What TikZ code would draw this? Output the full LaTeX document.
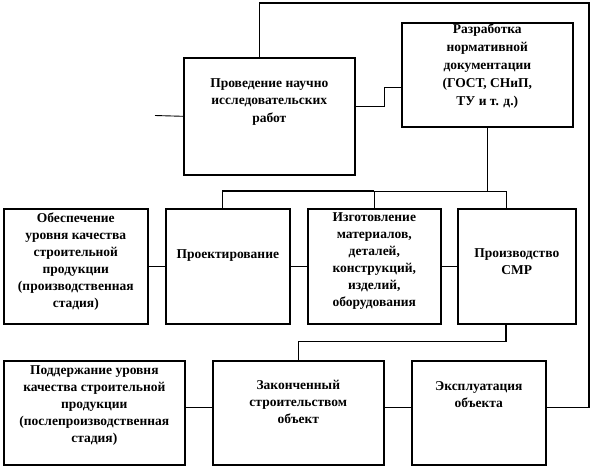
\documentclass[tikz,border=0pt]{standalone}
\usepackage{fontspec}
\setmainfont{Liberation Serif}
\usetikzlibrary{calc}
\tikzset{
  box/.style={draw=black, line width=1.6pt, fill=white, inner sep=0pt, anchor=north west},
  txt/.style={font=\fontsize{13.5}{17}\selectfont\bfseries, align=center, inner sep=0pt, anchor=north},
  widetxt/.style={txt, font=\fontsize{13.5}{17.8}\selectfont\bfseries},
  conn/.style={draw=black, line width=0.9pt},
  medconn/.style={draw=black, line width=1.2pt},
  thickconn/.style={draw=black, line width=1.6pt},
}
\begin{document}
\begin{tikzpicture}[x=1pt,y=-1pt]
\fill[white] (0,0) rectangle (593,468);
\useasboundingbox (0,0) rectangle (593,468);

% boxes
\node[box, minimum width=171pt, minimum height=117pt] (nir) at (183,57) {};
\node[box, minimum width=171pt, minimum height=104pt] (dev) at (401,22) {};
\node[box, minimum width=144pt, minimum height=115pt] (qual) at (3,208) {};
\node[box, minimum width=124pt, minimum height=115pt] (proj) at (165,208) {};
\node[box, minimum width=133pt, minimum height=115pt] (mat) at (307,208) {};
\node[box, minimum width=118pt, minimum height=115pt] (smr) at (457,208) {};
\node[box, minimum width=181pt, minimum height=104pt] (sup) at (3,360) {};
\node[box, minimum width=171pt, minimum height=104pt] (obj) at (212,360) {};
\node[box, minimum width=134pt, minimum height=104pt] (use) at (411,360) {};

% texts
\node[widetxt] (tnir) at ($(nir.north)+(0,21)$) {Проведение научно\\исследовательских\\работ};
\node[widetxt] (tdev) at ($(dev.north)+(0,2)$) {Разработка\\нормативной\\документации\\(ГОСТ, СНиП,\\ТУ и т. д.)};
\node[txt] (tqual) at ($(qual.north)+(0,5)$) {Обеспечение\\уровня качества\\строительной\\продукции\\(производственная\\стадия)};
\node[txt] (tproj) at ($(proj.north)+(0,41)$) {Проектирование};
\node[txt] (tmat) at ($(mat.north)+(0,4)$) {Изготовление\\материалов,\\деталей,\\конструкций,\\изделий,\\оборудования};
\node[txt] (tsmr) at ($(smr.north)+(0,40)$) {Производство\\СМР};
\node[txt] (tsup) at ($(sup.north)+(0,5)$) {Поддержание уровня\\качества строительной\\продукции\\(послепроизводственная\\стадия)};
\node[txt] (tobj) at ($(obj.north)+(0,20)$) {Законченный\\строительством\\объект};
\node[txt] (tuse) at ($(use.north)+(0,21)$) {Эксплуатация\\объекта};

% coordinates
\coordinate (stub) at (155,115.5);
\coordinate (busL) at (222,191);
\coordinate (busR) at (506,191);
\coordinate (loopTR) at (589,3);

% connectors
\draw[conn] (stub) -- (nir.west);
\draw[medconn] ([yshift=9.5pt]nir.east) -- ++(29,0) |- ([yshift=-13pt]dev.west);
\draw[thickconn] (dev.south) -- (dev.south |- busL);
\draw[thickconn] (busL) -- (mat.north |- busL);
\draw[conn] (mat.north |- busL) -- (busR);
\draw[conn] (busL) -- (busL |- proj.north);
\draw[thickconn] (mat.north |- busL) -- (mat.north);
\draw[conn] (busR) -- (busR |- smr.north);

\draw[conn] (qual.east) -- (proj.west);
\draw[conn] (proj.east) -- (mat.west);
\draw[conn] (mat.east) -- (smr.west);

\draw[medconn] (busR |- smr.south) -- ++(0,17) -| (obj.north);

\draw[conn] ([yshift=5pt]sup.east) -- ([yshift=5pt]obj.west);
\draw[conn] ([yshift=5pt]obj.east) -- ([yshift=5pt]use.west);

\draw[medconn] ([yshift=5pt]use.east) -| (loopTR) -| ([xshift=-9.5pt]nir.north);
\end{tikzpicture}
\end{document}
